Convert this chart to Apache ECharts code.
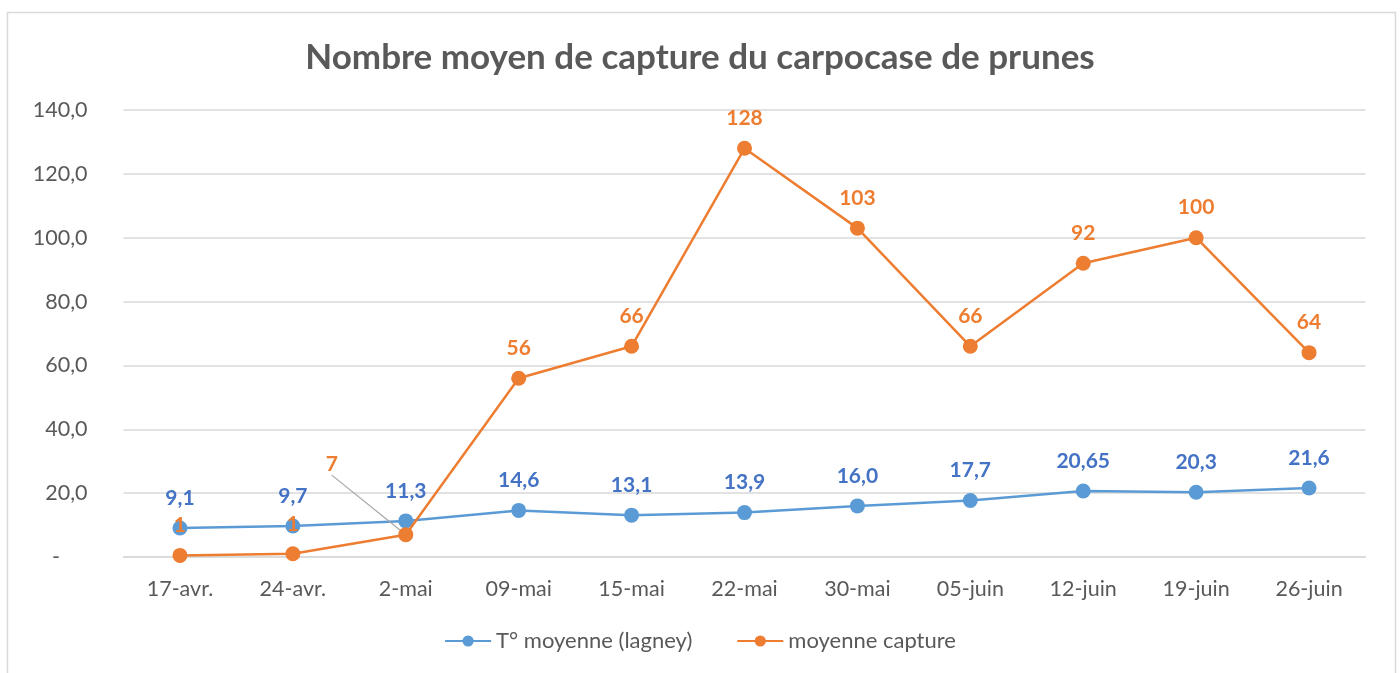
<!DOCTYPE html>
<html>
<head>
<meta charset="utf-8">
<script src="https://cdn.jsdelivr.net/npm/echarts@6/dist/echarts.min.js"></script>
<style>
  html, body { margin: 0; padding: 0; background: #fff; }
  #main { width: 1400px; height: 673px; }
</style>
</head>
<body>
<div id="main"></div>
<script>
const dates = ['17-avr.', '24-avr.', '2-mai', '09-mai', '15-mai', '22-mai', '30-mai', '05-juin', '12-juin', '19-juin', '26-juin'];
const temperature = [9.1, 9.7, 11.3, 14.6, 13.1, 13.9, 16.0, 17.7, 20.65, 20.3, 21.6];
const captures = [0.5, 1, 7, 56, 66, 128, 103, 66, 92, 100, 64];

const chartDom = document.getElementById('main');
const myChart = echarts.init(chartDom);

const fontFamily = 'Lato, "Open Sans", sans-serif';

function frenchNumber(v) {
  const s = Math.round(v * 100) % 10 ? v.toFixed(2) : v.toFixed(1);
  return s.replace('.', ',');
}

// only the "7" label is moved aside with a leader line
const captureData = captures.map(function (v, i) {
  if (i === 2) {
    return { value: v, labelLine: { show: true } };
  }
  return v;
});

const myChartOption = {
  backgroundColor: '#fff',
  textStyle: { fontFamily: fontFamily },
  graphic: [
    {
      type: 'rect',
      silent: true,
      shape: { x: 7.5, y: 12.5, width: 1388, height: 700 },
      style: { fill: 'none', stroke: '#d9d9d9', lineWidth: 1.5 }
    }
  ],
  title: {
    text: 'Nombre moyen de capture du carpocase de prunes',
    left: 'center',
    top: 35,
    textStyle: {
      fontFamily: fontFamily,
      fontSize: 35,
      fontWeight: 'bold',
      color: '#595959'
    }
  },
  legend: {
    bottom: 16,
    left: 'center',
    itemWidth: 46,
    itemHeight: 14,
    itemGap: 44,
    textStyle: { fontSize: 22, color: '#595959', fontFamily: fontFamily },
    data: ['T° moyenne (lagney)', 'moyenne capture']
  },
  grid: {
    left: 123.5,
    right: 34.5,
    top: 110,
    bottom: 116,
    containLabel: false
  },
  xAxis: {
    type: 'category',
    data: dates,
    boundaryGap: true,
    axisLine: { lineStyle: { color: '#d9d9d9', width: 1.5 } },
    axisTick: { show: false },
    axisLabel: { color: '#595959', fontSize: 21.5, margin: 21, fontFamily: fontFamily }
  },
  yAxis: {
    type: 'value',
    min: 0,
    max: 140,
    interval: 20,
    axisLine: { show: false },
    axisTick: { show: false },
    splitLine: { lineStyle: { color: '#d9d9d9', width: 1.5 } },
    axisLabel: {
      color: '#595959',
      fontSize: 21.5,
      margin: 36,
      fontFamily: fontFamily,
      formatter: function (v) {
        return v === 0 ? '-     ' : v.toFixed(1).replace('.', ',');
      }
    }
  },
  series: [
    {
      name: 'T° moyenne (lagney)',
      type: 'line',
      data: temperature,
      symbol: 'circle',
      symbolSize: 15,
      z: 2,
      itemStyle: { color: '#5b9bd5' },
      lineStyle: { color: '#5b9bd5', width: 2.5 },
      label: {
        show: true,
        position: 'top',
        distance: 12,
        color: '#4472c4',
        fontSize: 21,
        fontWeight: 'bold',
        fontFamily: fontFamily,
        formatter: function (p) { return frenchNumber(p.value); }
      }
    },
    {
      name: 'moyenne capture',
      type: 'line',
      data: captureData,
      symbol: 'circle',
      symbolSize: 15,
      z: 3,
      itemStyle: { color: '#ed7d31' },
      lineStyle: { color: '#ed7d31', width: 2.5 },
      label: {
        show: true,
        position: 'top',
        distance: 12,
        color: '#ed7d31',
        fontSize: 21,
        fontWeight: 'bold',
        fontFamily: fontFamily,
        formatter: function (p) { return Math.round(p.value); }
      },
      labelLine: {
        show: false,
        lineStyle: { color: '#a6a6a6', width: 1.2 }
      },
      labelLayout: function (params) {
        if (params.dataIndex === 2) {
          return { dx: -74, dy: -40 };
        }
        return {};
      }
    }
  ]
};

myChartOption && myChart.setOption(myChartOption);
</script>
</body>
</html>
